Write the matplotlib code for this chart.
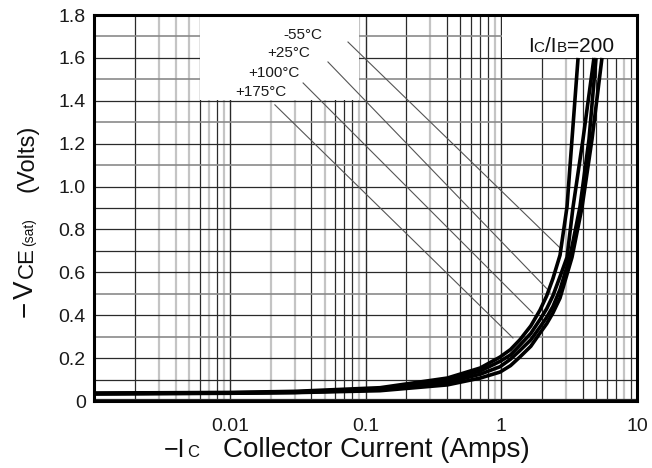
import matplotlib
matplotlib.use("Agg")
import matplotlib.pyplot as plt
from matplotlib.patches import Rectangle

plt.rcParams['font.family'] = ['Liberation Sans', 'DejaVu Sans']

# VCE(sat) vs Ic, IC/IB = 200, one curve per temperature
temps = ['-55°C', '+25°C', '+100°C', '+175°C']

ic_m55 = [0.001, 0.01, 0.03, 0.128, 0.4, 0.7, 0.98, 1.17, 1.37, 1.65, 1.93, 2.16, 2.4, 2.71,
          3.05, 3.32, 3.68]
vce_m55 = [0.037, 0.040, 0.045, 0.062, 0.107, 0.154, 0.205, 0.24, 0.285, 0.35, 0.424, 0.49,
           0.57, 0.68, 0.905, 1.22, 1.60]

ic_25 = [0.001, 0.01, 0.03, 0.128, 0.4, 0.7, 0.98, 1.17, 1.37, 1.65, 1.93, 2.16, 2.4, 2.71,
         3.05, 3.38, 4.0, 4.82]
vce_25 = [0.035, 0.038, 0.042, 0.057, 0.095, 0.14, 0.185, 0.215, 0.26, 0.315, 0.38, 0.43,
          0.49, 0.58, 0.67, 0.905, 1.22, 1.60]

ic_100 = [0.001, 0.01, 0.03, 0.128, 0.4, 0.7, 0.98, 1.17, 1.37, 1.65, 1.93, 2.16, 2.4, 2.71,
          3.2, 3.80, 4.43, 4.99]
vce_100 = [0.034, 0.037, 0.040, 0.052, 0.085, 0.125, 0.16, 0.195, 0.235, 0.285, 0.345, 0.39,
           0.44, 0.52, 0.67, 0.905, 1.22, 1.60]

ic_175 = [0.001, 0.01, 0.03, 0.128, 0.4, 0.7, 0.98, 1.17, 1.37, 1.65, 1.93, 2.16, 2.4, 2.71,
          3.32, 3.94, 4.66, 5.52]
vce_175 = [0.033, 0.036, 0.039, 0.048, 0.075, 0.107, 0.135, 0.165, 0.205, 0.255, 0.317, 0.36,
           0.41, 0.48, 0.67, 0.905, 1.22, 1.60]

# leader lines from the temperature labels to the curves
leader_ic0 = [0.0743, 0.0529, 0.0347, 0.0215]
leader_v0 = [1.674, 1.581, 1.483, 1.381]
leader_ic1 = [2.71, 2.29, 1.71, 1.22]
leader_v1 = [0.714, 0.508, 0.41, 0.294]
label_ic = [0.0478, 0.039, 0.0329, 0.0264]
label_v = [1.707, 1.623, 1.530, 1.441]

xticks = [0.01, 0.1, 1, 10]
xtick_labels = ['0.01', '0.1', '1', '10']
yticks = [0, 0.2, 0.4, 0.6, 0.8, 1.0, 1.2, 1.4, 1.6, 1.8]
ytick_labels = ['0', '0.2', '0.4', '0.6', '0.8', '1.0', '1.2', '1.4', '1.6', '1.8']

W, H = 652, 468
fig = plt.figure(figsize=(W / 100, H / 100), dpi=100)
fig.set_facecolor('white')
ax = fig.add_axes([94 / W, 67 / H, 543 / W, 386 / H])
ax.set_xscale('log')
ax.set_xlim(0.001, 10)
ax.set_ylim(0, 1.8)

dark = '#2a2a2a'
light = '#c4c4c4'

# vertical grid: decades dark, minor lines mixed dark / light
light_minor = {(0, 3), (0, 4), (0, 5), (0, 7), (0, 9), (1, 2), (1, 3), (1, 5), (1, 9),
               (2, 3), (2, 9), (3, 3), (3, 8)}
for d in range(4):
    base = 10.0 ** (d - 3)
    for m in range(2, 10):
        if (d, m) in light_minor:
            ax.axvline(base * m, color=light, lw=1.6, zorder=1)
        else:
            ax.axvline(base * m, color=dark, lw=0.9, zorder=1)
    if d > 0:
        ax.axvline(base, color=dark, lw=1.0, zorder=1)

# horizontal grid every 0.1
light_h = [0.3, 0.5, 1.1, 1.3, 1.5, 1.7]
for k in range(1, 18):
    yv = k / 10
    if any(abs(yv - l) < 1e-6 for l in light_h):
        ax.axhline(yv, color='#8a8a8a', lw=1.2, zorder=1)
    else:
        ax.axhline(yv, color=dark, lw=0.9, zorder=1)
ax.axhline(0.01, color=dark, lw=0.9, zorder=1)

# blank label areas
ax.add_patch(Rectangle((0.00605, 1.405), 0.0895 - 0.00605, 0.4, facecolor='white',
                       edgecolor='none', zorder=2))
ax.add_patch(Rectangle((1.02, 1.6), 9.0, 0.2, facecolor='white', edgecolor='none', zorder=2))

for ic, v in [(ic_m55, vce_m55), (ic_25, vce_25), (ic_100, vce_100), (ic_175, vce_175)]:
    ax.plot(ic, v, color='black', lw=2.6, zorder=4, solid_capstyle='butt')

for i in range(len(temps)):
    ax.plot([leader_ic0[i], leader_ic1[i]], [leader_v0[i], leader_v1[i]],
            color='#555555', lw=0.8, zorder=3)
    ax.text(label_ic[i], label_v[i], temps[i], ha='right', va='center',
            fontsize=11, color='#1a1a1a', zorder=5)

ax.set_xticks(xticks)
ax.set_xticklabels(xtick_labels)
ax.set_xticks([], minor=True)
ax.set_yticks(yticks)
ax.set_yticklabels(ytick_labels)
ax.tick_params(length=0, labelsize=14, colors='#1a1a1a')
ax.tick_params(axis='x', pad=12)
ax.tick_params(axis='y', pad=6)
for s in ax.spines.values():
    s.set_linewidth(2.2)
    s.set_color('black')
    s.set_zorder(6)

tc = '#111111'
# IC/IB=200 label
fig.text(528 / W, 1 - 52 / H, 'I', fontsize=15, color=tc, ha='left', va='baseline')
fig.text(533 / W, 1 - 52 / H, 'C', fontsize=11, color=tc, ha='left', va='baseline')
fig.text(545 / W, 1 - 52 / H, '/I', fontsize=15, color=tc, ha='left', va='baseline')
fig.text(557 / W, 1 - 52 / H, 'B', fontsize=11, color=tc, ha='left', va='baseline')
fig.text(567 / W, 1 - 52 / H, '=200', fontsize=15, color=tc, ha='left', va='baseline')

# x axis title
fig.text(164 / W, 1 - 457 / H, '\u2212I', fontsize=18, color=tc, ha='left', va='baseline')
fig.text(187 / W, 1 - 457 / H, 'C', fontsize=12, color=tc, ha='left', va='baseline')
fig.text(223 / W, 1 - 457 / H, 'Collector Current (Amps)', fontsize=20, color=tc,
         ha='left', va='baseline')

# y axis title (rotated pieces, reading bottom to top)
yl = dict(rotation=90, rotation_mode='anchor', ha='left', va='baseline', color=tc)
fig.text(33 / W, 1 - 317 / H, '\u2212', fontsize=20, **yl)
fig.text(33 / W, 1 - 299 / H, 'V', fontsize=20, **yl)
fig.text(33 / W, 1 - 278 / H, 'CE', fontsize=16, **yl)
fig.text(33 / W, 1 - 246 / H, '(sat)', fontsize=10, **yl)
fig.text(33 / W, 1 - 192 / H, '(Volts)', fontsize=17, **yl)

fig.savefig('out.png', dpi=100, facecolor='white')
